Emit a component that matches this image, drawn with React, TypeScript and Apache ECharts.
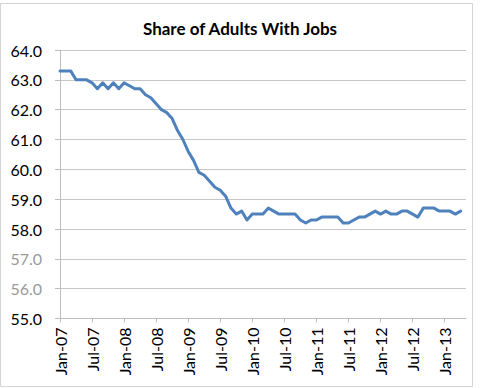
import { useEffect, useRef } from "react";
import * as echarts from "echarts";

const MONTHS = ["Jan", "Feb", "Mar", "Apr", "May", "Jun", "Jul", "Aug", "Sep", "Oct", "Nov", "Dec"];
const YEARS = ["07", "08", "09", "10", "11", "12", "13"];

const emp2007 = [63.3, 63.3, 63.3, 63.0, 63.0, 63.0, 62.9, 62.7, 62.9, 62.7, 62.9, 62.7];
const emp2008 = [62.9, 62.8, 62.7, 62.7, 62.5, 62.4, 62.2, 62.0, 61.9, 61.7, 61.3, 61.0];
const emp2009 = [60.6, 60.3, 59.9, 59.8, 59.6, 59.4, 59.3, 59.1, 58.7, 58.5, 58.6, 58.3];
const emp2010 = [58.5, 58.5, 58.5, 58.7, 58.6, 58.5, 58.5, 58.5, 58.5, 58.3, 58.2, 58.3];
const emp2011 = [58.3, 58.4, 58.4, 58.4, 58.4, 58.2, 58.2, 58.3, 58.4, 58.4, 58.5, 58.6];
const emp2012 = [58.5, 58.6, 58.5, 58.5, 58.6, 58.6, 58.5, 58.4, 58.7, 58.7, 58.7, 58.6];
const emp2013 = [58.6, 58.6, 58.5, 58.6];

const VALUES = [...emp2007, ...emp2008, ...emp2009, ...emp2010, ...emp2011, ...emp2012, ...emp2013];

const ALL_CATEGORIES: string[] = [];
YEARS.forEach((y) => MONTHS.forEach((m) => ALL_CATEGORIES.push(`${m}-${y}`)));
// axis runs Jan-07 through May-13
const CATEGORIES = ALL_CATEGORIES.slice(0, 77);

const Y_MIN = 55;
const Y_MAX = 64;
const Y_STEP = 1;
const GRAY_LABELS = [56, 57];

export default function App() {
  const ref = useRef<HTMLDivElement>(null);

  useEffect(() => {
    if (!ref.current) return;
    const chart = echarts.init(ref.current, null, { renderer: "svg" });
    const font = "Lato, 'Open Sans', sans-serif";
    chart.setOption({
      animation: false,
      backgroundColor: "#ffffff",
      title: {
        text: "Share of Adults With Jobs",
        left: "center",
        top: 15,
        textStyle: { fontFamily: font, fontWeight: "bold", fontSize: 17, color: "#000" },
      },
      graphic: [
        {
          type: "rect",
          shape: { x: 0.5, y: 3.5, width: 472, height: 383 },
          style: { fill: "none", stroke: "#d4d4d4", lineWidth: 1 },
          silent: true,
        },
      ],
      grid: { left: 60, right: 14, top: 50, bottom: 69.5 },
      xAxis: {
        type: "category",
        data: CATEGORIES,
        boundaryGap: false,
        axisLine: { show: true, lineStyle: { color: "#bdbdbd", width: 1 } },
        axisTick: { show: true, interval: 5, length: 4, lineStyle: { color: "#bdbdbd" } },
        axisLabel: {
          interval: 5,
          rotate: 90,
          margin: 9,
          fontFamily: font,
          fontSize: 16,
          color: "#000",
        },
        splitLine: { show: false },
      },
      yAxis: {
        type: "value",
        min: Y_MIN,
        max: Y_MAX,
        interval: Y_STEP,
        axisLine: { show: true, lineStyle: { color: "#bdbdbd", width: 1 } },
        axisTick: { show: true, length: 5, lineStyle: { color: "#bdbdbd" } },
        splitLine: { show: true, lineStyle: { color: "#c6c6c6", width: 1 } },
        axisLabel: {
          margin: 18,
          fontFamily: font,
          fontSize: 16,
          formatter: (v: number) =>
            GRAY_LABELS.includes(Math.round(v)) ? `{g|${v.toFixed(1)}}` : `{b|${v.toFixed(1)}}`,
          rich: {
            b: { color: "#000", fontFamily: font, fontSize: 16 },
            g: { color: "#9a9a9a", fontFamily: font, fontSize: 16 },
          },
        },
      },
      series: [
        {
          type: "line",
          data: VALUES,
          symbol: "none",
          lineStyle: { color: "#4f81bd", width: 3, join: "round", cap: "round" },
        },
      ],
    });
    return () => chart.dispose();
  }, []);

  return (
    <div
      ref={ref}
      style={{ position: "fixed", left: 0, top: 0, width: 480, height: 388 }}
    />
  );
}
